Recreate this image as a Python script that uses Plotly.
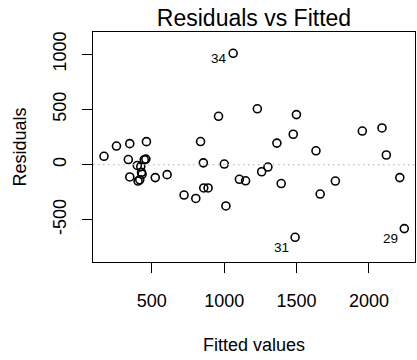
import plotly.graph_objects as go

fitted = [170, 256, 348, 463, 338, 448, 459, 400, 424, 429, 433, 348, 405, 417,
          524, 606, 723, 804, 837, 856, 961, 1001, 1012, 859, 889, 1062, 1105, 1148,
          1229, 1259, 1302, 1364, 1394, 1477, 1499, 1490, 1634, 1663, 1768, 1954,
          2090, 2120, 2213, 2244]
residuals = [75, 168, 190, 208, 46, 44, 50, -8, -18, -70, -88, -112, -149, -138,
             -118, -91, -276, -307, 209, 16, 438, 5, -375, -212, -212, 1009, -133, -147,
             506, -65, -22, 195, -172, 275, 453, -659, 125, -267, -149, 304,
             332, 87, -118, -580]
label_index = [25, 35, 43]
label_text = ["34", "31", "29"]
label_yshift = [-5, -10, -10]

x_ticks = [500, 1000, 1500, 2000]
y_ticks = [-500, 0, 500, 1000]

FONT = "Liberation Sans, Arial, Helvetica, sans-serif"

fig = go.Figure()
fig.add_trace(go.Scatter(
    x=fitted, y=residuals, mode="markers",
    marker=dict(symbol="circle-open", size=8, color="black", line=dict(width=1.6, color="black")),
    showlegend=False, hoverinfo="x+y"))

fig.add_hline(y=0, line=dict(color="#bebebe", width=1.3, dash="1.5px,3.5px"))

for i, t, ys in zip(label_index, label_text, label_yshift):
    fig.add_annotation(x=fitted[i], y=residuals[i], text=t, showarrow=False,
                       xanchor="right", yanchor="middle", xshift=-4, yshift=ys,
                       font=dict(family=FONT, size=13.5, color="black"))

fig.add_annotation(x=0.5, y=-0.362, xref="paper", yref="paper", text="Fitted values",
                   showarrow=False, xanchor="center", yanchor="middle",
                   font=dict(family=FONT, size=18, color="black"))
fig.add_annotation(x=-0.228, y=0.5, xref="paper", yref="paper", text="Residuals",
                   showarrow=False, xanchor="center", yanchor="middle", textangle=-90,
                   font=dict(family=FONT, size=18, color="black"))

fig.update_layout(
    width=417, height=360, autosize=False,
    margin=dict(l=93, r=2, t=32, b=98),
    paper_bgcolor="white", plot_bgcolor="white",
    font=dict(family=FONT, size=18, color="black"),
    title=dict(text="Residuals vs Fitted", x=0.5, xref="paper", xanchor="center",
               y=1 - 18 / 360, yref="container", yanchor="middle",
               font=dict(family=FONT, size=23, color="black")),
    xaxis=dict(range=[94, 2318], tickvals=x_ticks, ticktext=[str(v) for v in x_ticks],
               ticks="outside", ticklen=10, tickwidth=1, tickcolor="black",
               showline=True, linecolor="black", linewidth=1, mirror=True,
               showgrid=False, zeroline=False, ticklabelstandoff=12,
               tickfont=dict(family=FONT, size=18, color="black")),
    yaxis=dict(range=[-883, 1202], tickvals=y_ticks, ticktext=[str(v) for v in y_ticks],
               ticks="outside", ticklen=10, tickwidth=1, tickcolor="black",
               showline=True, linecolor="black", linewidth=1, mirror=True,
               showgrid=False, zeroline=False, tickangle=-90, ticklabelstandoff=9,
               tickfont=dict(family=FONT, size=18, color="black")),
)

fig.write_html("out.html")
